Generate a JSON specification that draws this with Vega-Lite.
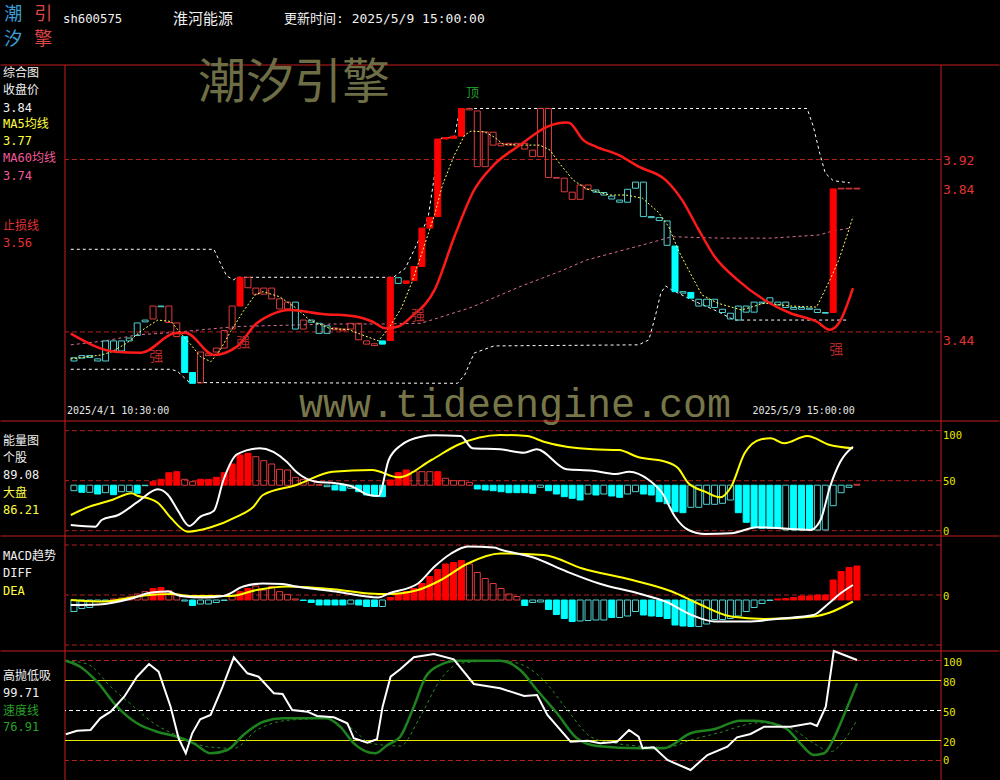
{
"$schema": "https://vega.github.io/schema/vega-lite/v6.json",
"background": "#000000",
"padding": 0,
"spacing": 0,
"bounds": "flush",
"resolve": {"scale": {"y": "independent"}},
"config": {"view": {"stroke": null}},
"datasets": {
"candles": [{"i":0,"o":3.368,"c":3.359,"k":"ch"},{"i":1,"o":3.374,"c":3.367,"k":"ch"},{"i":2,"o":3.374,"c":3.369,"k":"ch"},{"i":3,"o":3.365,"c":3.359,"k":"ch"},{"i":4,"o":3.415,"c":3.359,"k":"ch"},{"i":5,"o":3.415,"c":3.387,"k":"ch"},{"i":6,"o":3.415,"c":3.387,"k":"ch"},{"i":7,"o":3.423,"c":3.415,"k":"ch"},{"i":8,"o":3.465,"c":3.430,"k":"ch"},{"i":9,"o":3.473,"c":3.468,"k":"ch"},{"i":10,"o":3.476,"c":3.512,"k":"rh"},{"i":11,"o":3.512,"c":3.510,"k":"ch"},{"i":12,"o":3.466,"c":3.512,"k":"rh"},{"i":13,"o":3.427,"c":3.465,"k":"rh"},{"i":14,"o":3.427,"c":3.327,"k":"cs"},{"i":15,"o":3.327,"c":3.297,"k":"cs"},{"i":16,"o":3.298,"c":3.384,"k":"rh"},{"i":17,"o":3.374,"c":3.379,"k":"rh"},{"i":18,"o":3.384,"c":3.395,"k":"rh"},{"i":19,"o":3.395,"c":3.444,"k":"rh"},{"i":20,"o":3.448,"c":3.512,"k":"rh"},{"i":21,"o":3.512,"c":3.592,"k":"rs"},{"i":22,"o":3.563,"c":3.592,"k":"rh"},{"i":23,"o":3.545,"c":3.562,"k":"rh"},{"i":24,"o":3.545,"c":3.562,"k":"rh"},{"i":25,"o":3.532,"c":3.562,"k":"rh"},{"i":26,"o":3.504,"c":3.532,"k":"rh"},{"i":27,"o":3.504,"c":3.523,"k":"rh"},{"i":28,"o":3.523,"c":3.448,"k":"ch"},{"i":29,"o":3.448,"c":3.473,"k":"rh"},{"i":30,"o":3.473,"c":3.467,"k":"ch"},{"i":31,"o":3.464,"c":3.436,"k":"ch"},{"i":32,"o":3.457,"c":3.436,"k":"ch"},{"i":33,"o":3.446,"c":3.451,"k":"rh"},{"i":34,"o":3.443,"c":3.448,"k":"rh"},{"i":35,"o":3.448,"c":3.464,"k":"rh"},{"i":36,"o":3.418,"c":3.464,"k":"rh"},{"i":37,"o":3.406,"c":3.415,"k":"rh"},{"i":38,"o":3.402,"c":3.407,"k":"rh"},{"i":39,"o":3.415,"c":3.406,"k":"cs"},{"i":40,"o":3.416,"c":3.592,"k":"rs"},{"i":41,"o":3.591,"c":3.575,"k":"ch"},{"i":42,"o":3.575,"c":3.582,"k":"rs"},{"i":43,"o":3.583,"c":3.622,"k":"rs"},{"i":44,"o":3.622,"c":3.729,"k":"rs"},{"i":45,"o":3.729,"c":3.759,"k":"rs"},{"i":46,"o":3.761,"c":3.977,"k":"rs"},{"i":47,"o":3.977,"c":3.981,"k":"rs"},{"i":48,"o":3.979,"c":3.985,"k":"rs"},{"i":49,"o":3.985,"c":4.062,"k":"rs"},{"i":50,"o":4.058,"c":4.062,"k":"rh"},{"i":51,"o":3.900,"c":4.055,"k":"rh"},{"i":52,"o":3.900,"c":3.997,"k":"rh"},{"i":53,"o":3.960,"c":3.996,"k":"rh"},{"i":54,"o":3.958,"c":3.965,"k":"rh"},{"i":55,"o":3.960,"c":3.965,"k":"rh"},{"i":56,"o":3.958,"c":3.965,"k":"rh"},{"i":57,"o":3.949,"c":3.965,"k":"rh"},{"i":58,"o":3.928,"c":3.946,"k":"rh"},{"i":59,"o":3.928,"c":4.062,"k":"rh"},{"i":60,"o":3.870,"c":4.062,"k":"rh"},{"i":61,"o":3.868,"c":3.870,"k":"rh"},{"i":62,"o":3.830,"c":3.868,"k":"rh"},{"i":63,"o":3.809,"c":3.829,"k":"rh"},{"i":64,"o":3.809,"c":3.849,"k":"rh"},{"i":65,"o":3.838,"c":3.849,"k":"rh"},{"i":66,"o":3.835,"c":3.829,"k":"ch"},{"i":67,"o":3.828,"c":3.821,"k":"ch"},{"i":68,"o":3.818,"c":3.810,"k":"ch"},{"i":69,"o":3.807,"c":3.801,"k":"ch"},{"i":70,"o":3.837,"c":3.801,"k":"ch"},{"i":71,"o":3.857,"c":3.840,"k":"ch"},{"i":72,"o":3.857,"c":3.761,"k":"ch"},{"i":73,"o":3.761,"c":3.758,"k":"ch"},{"i":74,"o":3.758,"c":3.750,"k":"ch"},{"i":75,"o":3.749,"c":3.681,"k":"ch"},{"i":76,"o":3.679,"c":3.552,"k":"cs"},{"i":77,"o":3.552,"c":3.548,"k":"ch"},{"i":78,"o":3.550,"c":3.534,"k":"cs"},{"i":79,"o":3.531,"c":3.512,"k":"ch"},{"i":80,"o":3.531,"c":3.512,"k":"ch"},{"i":81,"o":3.531,"c":3.508,"k":"ch"},{"i":82,"o":3.503,"c":3.494,"k":"ch"},{"i":83,"o":3.492,"c":3.476,"k":"ch"},{"i":84,"o":3.512,"c":3.473,"k":"ch"},{"i":85,"o":3.512,"c":3.495,"k":"ch"},{"i":86,"o":3.523,"c":3.495,"k":"ch"},{"i":87,"o":3.523,"c":3.520,"k":"ch"},{"i":88,"o":3.535,"c":3.523,"k":"ch"},{"i":89,"o":3.523,"c":3.515,"k":"ch"},{"i":90,"o":3.523,"c":3.508,"k":"ch"},{"i":91,"o":3.508,"c":3.503,"k":"ch"},{"i":92,"o":3.508,"c":3.503,"k":"ch"},{"i":93,"o":3.506,"c":3.503,"k":"ch"},{"i":94,"o":3.503,"c":3.494,"k":"ch"},{"i":95,"o":3.494,"c":3.492,"k":"ch"},{"i":96,"o":3.494,"c":3.838,"k":"rs"},{"i":97,"o":3.838,"c":3.840,"k":"rh"},{"i":98,"o":3.838,"c":3.840,"k":"rh"},{"i":99,"o":3.838,"c":3.840,"k":"rh"}],
"ma5": [{"i":-0.4,"v":3.365},{"i":1.4,"v":3.370},{"i":3.5,"v":3.376},{"i":4.8,"v":3.385},{"i":6.7,"v":3.409},{"i":8.5,"v":3.443},{"i":10.6,"v":3.473},{"i":12.3,"v":3.469},{"i":13.5,"v":3.436},{"i":14.8,"v":3.404},{"i":16.0,"v":3.371},{"i":17.3,"v":3.357},{"i":18.5,"v":3.390},{"i":19.8,"v":3.441},{"i":21.4,"v":3.497},{"i":22.9,"v":3.543},{"i":23.9,"v":3.552},{"i":26.0,"v":3.538},{"i":28.1,"v":3.506},{"i":29.8,"v":3.473},{"i":32.3,"v":3.450},{"i":34.8,"v":3.446},{"i":36.4,"v":3.432},{"i":38.5,"v":3.415},{"i":39.8,"v":3.450},{"i":41.4,"v":3.506},{"i":42.7,"v":3.576},{"i":43.9,"v":3.654},{"i":45.6,"v":3.766},{"i":46.6,"v":3.849},{"i":48.1,"v":3.932},{"i":49.4,"v":3.988},{"i":50.2,"v":3.999},{"i":51.9,"v":3.997},{"i":53.1,"v":3.983},{"i":54.3,"v":3.962},{"i":57.3,"v":3.960},{"i":58.9,"v":3.960},{"i":60.2,"v":3.946},{"i":61.4,"v":3.909},{"i":63.1,"v":3.863},{"i":64.8,"v":3.838},{"i":67.7,"v":3.821},{"i":69.8,"v":3.821},{"i":71.9,"v":3.812},{"i":73.9,"v":3.773},{"i":75.2,"v":3.733},{"i":76.4,"v":3.668},{"i":77.7,"v":3.613},{"i":79.4,"v":3.543},{"i":81.4,"v":3.520},{"i":84.4,"v":3.501},{"i":87.3,"v":3.520},{"i":90.6,"v":3.512},{"i":93.9,"v":3.509},{"i":95.6,"v":3.585},{"i":96.7,"v":3.640},{"i":97.7,"v":3.705},{"i":98.5,"v":3.761}],
"ma60": [{"i":-0.4,"v":3.404},{"i":3.9,"v":3.415},{"i":8.1,"v":3.432},{"i":12.3,"v":3.438},{"i":20.6,"v":3.455},{"i":32.7,"v":3.462},{"i":38.9,"v":3.462},{"i":43.9,"v":3.464},{"i":50.2,"v":3.508},{"i":56.4,"v":3.566},{"i":61.4,"v":3.608},{"i":64.8,"v":3.640},{"i":72.7,"v":3.687},{"i":75.6,"v":3.705},{"i":81.9,"v":3.701},{"i":88.1,"v":3.701},{"i":94.3,"v":3.710},{"i":95.6,"v":3.719},{"i":98.1,"v":3.729}],
"trend": [{"i":-0.4,"v":3.435},{"i":5.2,"v":3.385},{"i":8.5,"v":3.382},{"i":12.7,"v":3.436},{"i":14.1,"v":3.438},{"i":17.7,"v":3.376},{"i":20.6,"v":3.399},{"i":23.1,"v":3.464},{"i":24.8,"v":3.487},{"i":27.3,"v":3.501},{"i":31.4,"v":3.490},{"i":35.6,"v":3.483},{"i":37.7,"v":3.469},{"i":39.4,"v":3.450},{"i":41.0,"v":3.455},{"i":42.7,"v":3.483},{"i":45.6,"v":3.557},{"i":48.1,"v":3.705},{"i":50.6,"v":3.835},{"i":53.1,"v":3.905},{"i":56.4,"v":3.960},{"i":59.8,"v":4.011},{"i":62.3,"v":4.023},{"i":62.7,"v":4.021},{"i":64.4,"v":3.974},{"i":66.0,"v":3.956},{"i":68.9,"v":3.932},{"i":71.4,"v":3.900},{"i":74.8,"v":3.863},{"i":76.9,"v":3.807},{"i":79.0,"v":3.724},{"i":81.0,"v":3.650},{"i":83.9,"v":3.585},{"i":87.3,"v":3.529},{"i":90.6,"v":3.492},{"i":93.9,"v":3.469},{"i":95.6,"v":3.446},{"i":96.7,"v":3.464},{"i":98.5,"v":3.562}],
"upper": [{"i":-0.4,"v":3.670},{"i":17.7,"v":3.670},{"i":18.2,"v":3.646},{"i":19.3,"v":3.596},{"i":20.2,"v":3.585},{"i":20.6,"v":3.592},{"i":40.4,"v":3.592},{"i":41.9,"v":3.617},{"i":43.5,"v":3.691},{"i":44.8,"v":3.761},{"i":45.6,"v":3.877},{"i":46.4,"v":3.979},{"i":48.1,"v":3.983},{"i":48.7,"v":4.049},{"i":49.8,"v":4.062},{"i":92.7,"v":4.062},{"i":93.5,"v":4.011},{"i":94.3,"v":3.937},{"i":95.0,"v":3.882},{"i":96.0,"v":3.861},{"i":98.1,"v":3.855}],
"lower": [{"i":-0.4,"v":3.336},{"i":12.3,"v":3.336},{"i":13.1,"v":3.330},{"i":14.6,"v":3.299},{"i":48.5,"v":3.297},{"i":49.4,"v":3.320},{"i":50.6,"v":3.381},{"i":53.1,"v":3.401},{"i":71.4,"v":3.404},{"i":72.7,"v":3.418},{"i":73.5,"v":3.483},{"i":74.2,"v":3.548},{"i":74.8,"v":3.568},{"i":75.6,"v":3.557},{"i":78.1,"v":3.529},{"i":81.0,"v":3.501},{"i":83.5,"v":3.473},{"i":98.0,"v":3.473}],
"ebars": [{"i":0,"v":40,"k":"ch"},{"i":1,"v":38.4,"k":"cs"},{"i":2,"v":38.4,"k":"ch"},{"i":3,"v":36.7,"k":"cs"},{"i":4,"v":38,"k":"ch"},{"i":5,"v":36,"k":"cs"},{"i":6,"v":39,"k":"ch"},{"i":7,"v":39,"k":"ch"},{"i":8,"v":37.4,"k":"cs"},{"i":9,"v":45,"k":"ch"},{"i":10,"v":49,"k":"rs"},{"i":11,"v":51.4,"k":"rs"},{"i":12,"v":58,"k":"rs"},{"i":13,"v":59,"k":"rs"},{"i":14,"v":51.4,"k":"rh"},{"i":15,"v":49,"k":"rh"},{"i":16,"v":51.4,"k":"rs"},{"i":17,"v":51.4,"k":"rs"},{"i":18,"v":53.4,"k":"rs"},{"i":19,"v":58,"k":"rs"},{"i":20,"v":66.7,"k":"rs"},{"i":21,"v":75.7,"k":"rs"},{"i":22,"v":77.4,"k":"rs"},{"i":23,"v":74,"k":"rh"},{"i":24,"v":70,"k":"rh"},{"i":25,"v":66.7,"k":"rh"},{"i":26,"v":61.4,"k":"rh"},{"i":27,"v":60.7,"k":"rh"},{"i":28,"v":53.4,"k":"rh"},{"i":29,"v":51.4,"k":"rh"},{"i":30,"v":50,"k":"rh"},{"i":31,"v":46,"k":"rh"},{"i":32,"v":44,"k":"ch"},{"i":33,"v":40.7,"k":"cs"},{"i":34,"v":40,"k":"cs"},{"i":35,"v":42.4,"k":"ch"},{"i":36,"v":39,"k":"cs"},{"i":37,"v":35.7,"k":"cs"},{"i":38,"v":34.7,"k":"cs"},{"i":39,"v":34,"k":"cs"},{"i":40,"v":50.7,"k":"rs"},{"i":41,"v":58,"k":"rs"},{"i":42,"v":60.7,"k":"rs"},{"i":43,"v":59,"k":"rh"},{"i":44,"v":59,"k":"rh"},{"i":45,"v":59,"k":"rh"},{"i":46,"v":59,"k":"rs"},{"i":47,"v":52.4,"k":"rh"},{"i":48,"v":50,"k":"rh"},{"i":49,"v":50,"k":"rh"},{"i":50,"v":48.4,"k":"rh"},{"i":51,"v":41.7,"k":"cs"},{"i":52,"v":40.7,"k":"cs"},{"i":53,"v":40,"k":"cs"},{"i":54,"v":39,"k":"cs"},{"i":55,"v":38,"k":"cs"},{"i":56,"v":38,"k":"cs"},{"i":57,"v":38,"k":"cs"},{"i":58,"v":37.4,"k":"cs"},{"i":59,"v":43.4,"k":"ch"},{"i":60,"v":40,"k":"cs"},{"i":61,"v":36.7,"k":"cs"},{"i":62,"v":34,"k":"cs"},{"i":63,"v":32.4,"k":"cs"},{"i":64,"v":30.7,"k":"cs"},{"i":65,"v":36.7,"k":"ch"},{"i":66,"v":35.7,"k":"cs"},{"i":67,"v":36.7,"k":"ch"},{"i":68,"v":34.7,"k":"cs"},{"i":69,"v":33.4,"k":"cs"},{"i":70,"v":36.7,"k":"ch"},{"i":71,"v":39,"k":"ch"},{"i":72,"v":36.7,"k":"cs"},{"i":73,"v":35.7,"k":"cs"},{"i":74,"v":29,"k":"cs"},{"i":75,"v":27,"k":"cs"},{"i":76,"v":19,"k":"cs"},{"i":77,"v":18,"k":"cs"},{"i":78,"v":23.4,"k":"ch"},{"i":79,"v":23.4,"k":"ch"},{"i":80,"v":26.4,"k":"ch"},{"i":81,"v":26.4,"k":"ch"},{"i":82,"v":27.4,"k":"ch"},{"i":83,"v":30.7,"k":"ch"},{"i":84,"v":18,"k":"cs"},{"i":85,"v":8.4,"k":"cs"},{"i":86,"v":3.4,"k":"cs"},{"i":87,"v":2.4,"k":"cs"},{"i":88,"v":2.4,"k":"cs"},{"i":89,"v":2.4,"k":"cs"},{"i":90,"v":0.7,"k":"ch"},{"i":91,"v":0.7,"k":"cs"},{"i":92,"v":0.7,"k":"cs"},{"i":93,"v":0.7,"k":"cs"},{"i":94,"v":0.7,"k":"ch"},{"i":95,"v":0.7,"k":"ch"},{"i":96,"v":25,"k":"ch"},{"i":97,"v":38,"k":"ch"},{"i":98,"v":43.4,"k":"ch"},{"i":99,"v":46.4,"k":"rh"}],
"ewhite": [{"i":-0.4,"v":5.7},{"i":2.7,"v":4},{"i":3.5,"v":10.7},{"i":5.6,"v":15.7},{"i":8.1,"v":29},{"i":10.6,"v":41.4},{"i":11.9,"v":35.7},{"i":13.1,"v":20.7},{"i":14.6,"v":4.7},{"i":16.0,"v":14},{"i":17.7,"v":20},{"i":18.9,"v":50.7},{"i":20.6,"v":76.4},{"i":23.5,"v":82.4},{"i":26.9,"v":69},{"i":28.1,"v":59},{"i":30.6,"v":49},{"i":33.1,"v":47.4},{"i":35.2,"v":44},{"i":37.3,"v":35.7},{"i":38.5,"v":34.7},{"i":39.8,"v":70.7},{"i":41.4,"v":85.7},{"i":43.9,"v":94},{"i":45.6,"v":95.4},{"i":48.9,"v":94.7},{"i":50.4,"v":82.4},{"i":53.9,"v":81.4},{"i":56.9,"v":78},{"i":58.5,"v":81.4},{"i":62.3,"v":61.4},{"i":65.6,"v":60},{"i":68.5,"v":56.7},{"i":70.2,"v":59},{"i":72.7,"v":50.7},{"i":74.4,"v":37.4},{"i":76.0,"v":14},{"i":77.7,"v":0.7},{"i":79.8,"v":-3.3},{"i":83.1,"v":-2.6},{"i":86.4,"v":3.4},{"i":91.4,"v":1.4},{"i":93.1,"v":0.7},{"i":94.4,"v":10.7},{"i":95.6,"v":44},{"i":96.9,"v":69},{"i":98.5,"v":84}],
"eyellow": [{"i":-0.4,"v":15.7},{"i":1.4,"v":22.4},{"i":4.8,"v":30.7},{"i":7.3,"v":37.4},{"i":8.1,"v":34.7},{"i":9.4,"v":32.4},{"i":10.6,"v":28},{"i":12.3,"v":12.4},{"i":14.4,"v":-1},{"i":17.3,"v":3.4},{"i":20.6,"v":14},{"i":22.7,"v":24},{"i":23.9,"v":35.7},{"i":28.1,"v":45.7},{"i":32.7,"v":59},{"i":37.7,"v":60.7},{"i":41.0,"v":53.4},{"i":45.2,"v":70.7},{"i":48.5,"v":85.7},{"i":53.9,"v":95.7},{"i":57.3,"v":94.7},{"i":59.4,"v":89},{"i":65.6,"v":81.4},{"i":68.9,"v":80.7},{"i":71.4,"v":73.4},{"i":74.8,"v":69},{"i":76.4,"v":62.4},{"i":77.7,"v":47.4},{"i":79.8,"v":39},{"i":81.7,"v":33.4},{"i":83.1,"v":44},{"i":84.8,"v":77.4},{"i":86.9,"v":91.4},{"i":88.1,"v":92.4},{"i":89.8,"v":87.4},{"i":92.7,"v":94.7},{"i":95.6,"v":85.7},{"i":98.5,"v":82.4}],
"mbars": [{"i":0,"v":-0.033,"k":"ch"},{"i":1,"v":-0.027,"k":"ch"},{"i":2,"v":-0.025,"k":"ch"},{"i":3,"v":-0.013,"k":"ch"},{"i":4,"v":-0.012,"k":"ch"},{"i":5,"v":-0.008,"k":"rh"},{"i":6,"v":-0.006,"k":"rh"},{"i":7,"v":-0.004,"k":"rh"},{"i":8,"v":0.002,"k":"rh"},{"i":9,"v":0.0067,"k":"rh"},{"i":10,"v":0.013,"k":"rs"},{"i":11,"v":0.015,"k":"rs"},{"i":12,"v":0.0087,"k":"rh"},{"i":13,"v":0.0,"k":"rh"},{"i":14,"v":-0.012,"k":"ch"},{"i":15,"v":-0.021,"k":"cs"},{"i":16,"v":-0.018,"k":"ch"},{"i":17,"v":-0.018,"k":"ch"},{"i":18,"v":-0.015,"k":"ch"},{"i":19,"v":-0.011,"k":"ch"},{"i":20,"v":-0.002,"k":"rh"},{"i":21,"v":0.0067,"k":"rs"},{"i":22,"v":0.013,"k":"rs"},{"i":23,"v":0.018,"k":"rh"},{"i":24,"v":0.010,"k":"rh"},{"i":25,"v":0.017,"k":"rh"},{"i":26,"v":0.0067,"k":"rh"},{"i":27,"v":0.0013,"k":"rh"},{"i":28,"v":-0.008,"k":"rh"},{"i":29,"v":-0.011,"k":"cs"},{"i":30,"v":-0.015,"k":"cs"},{"i":31,"v":-0.020,"k":"cs"},{"i":32,"v":-0.020,"k":"cs"},{"i":33,"v":-0.020,"k":"cs"},{"i":34,"v":-0.020,"k":"cs"},{"i":35,"v":-0.018,"k":"ch"},{"i":36,"v":-0.020,"k":"cs"},{"i":37,"v":-0.023,"k":"cs"},{"i":38,"v":-0.023,"k":"cs"},{"i":39,"v":-0.023,"k":"ch"},{"i":40,"v":-0.005,"k":"rs"},{"i":41,"v":0.0033,"k":"rs"},{"i":42,"v":0.0067,"k":"rs"},{"i":43,"v":0.013,"k":"rs"},{"i":44,"v":0.023,"k":"rs"},{"i":45,"v":0.037,"k":"rs"},{"i":46,"v":0.051,"k":"rs"},{"i":47,"v":0.062,"k":"rs"},{"i":48,"v":0.065,"k":"rs"},{"i":49,"v":0.069,"k":"rs"},{"i":50,"v":0.062,"k":"rh"},{"i":51,"v":0.045,"k":"rh"},{"i":52,"v":0.033,"k":"rh"},{"i":53,"v":0.023,"k":"rh"},{"i":54,"v":0.013,"k":"rh"},{"i":55,"v":0.002,"k":"rh"},{"i":56,"v":-0.003,"k":"rh"},{"i":57,"v":-0.021,"k":"cs"},{"i":58,"v":-0.015,"k":"ch"},{"i":59,"v":-0.014,"k":"ch"},{"i":60,"v":-0.029,"k":"cs"},{"i":61,"v":-0.039,"k":"cs"},{"i":62,"v":-0.047,"k":"cs"},{"i":63,"v":-0.053,"k":"cs"},{"i":64,"v":-0.052,"k":"ch"},{"i":65,"v":-0.051,"k":"ch"},{"i":66,"v":-0.050,"k":"ch"},{"i":67,"v":-0.050,"k":"ch"},{"i":68,"v":-0.045,"k":"cs"},{"i":69,"v":-0.045,"k":"ch"},{"i":70,"v":-0.042,"k":"ch"},{"i":71,"v":-0.033,"k":"ch"},{"i":72,"v":-0.040,"k":"cs"},{"i":73,"v":-0.042,"k":"cs"},{"i":74,"v":-0.043,"k":"cs"},{"i":75,"v":-0.047,"k":"cs"},{"i":76,"v":-0.060,"k":"cs"},{"i":77,"v":-0.062,"k":"cs"},{"i":78,"v":-0.063,"k":"cs"},{"i":79,"v":-0.063,"k":"ch"},{"i":80,"v":-0.058,"k":"ch"},{"i":81,"v":-0.049,"k":"ch"},{"i":82,"v":-0.049,"k":"ch"},{"i":83,"v":-0.047,"k":"ch"},{"i":84,"v":-0.042,"k":"ch"},{"i":85,"v":-0.033,"k":"ch"},{"i":86,"v":-0.025,"k":"ch"},{"i":87,"v":-0.017,"k":"ch"},{"i":88,"v":-0.011,"k":"ch"},{"i":89,"v":-0.008,"k":"rs"},{"i":90,"v":-0.007,"k":"rs"},{"i":91,"v":-0.005,"k":"rs"},{"i":92,"v":-0.002,"k":"rs"},{"i":93,"v":-0.002,"k":"rs"},{"i":94,"v":0.0,"k":"rs"},{"i":95,"v":0.0,"k":"rs"},{"i":96,"v":0.030,"k":"rs"},{"i":97,"v":0.047,"k":"rs"},{"i":98,"v":0.055,"k":"rs"},{"i":99,"v":0.058,"k":"rs"}],
"diff": [{"i":-0.4,"v":-0.020},{"i":3.1,"v":-0.019},{"i":7.3,"v":-0.007},{"i":9.8,"v":0.005},{"i":11.9,"v":0.007},{"i":13.5,"v":-0.002},{"i":16.4,"v":-0.005},{"i":18.9,"v":-0.002},{"i":21.4,"v":0.017},{"i":23.9,"v":0.023},{"i":26.4,"v":0.022},{"i":28.1,"v":0.017},{"i":33.1,"v":0.007},{"i":38.5,"v":-0.005},{"i":39.8,"v":0.003},{"i":43.5,"v":0.023},{"i":45.6,"v":0.057},{"i":47.7,"v":0.083},{"i":49.8,"v":0.097},{"i":53.1,"v":0.095},{"i":53.9,"v":0.091},{"i":58.1,"v":0.075},{"i":62.3,"v":0.047},{"i":66.4,"v":0.023},{"i":71.4,"v":0.003},{"i":74.8,"v":-0.013},{"i":78.1,"v":-0.040},{"i":81.0,"v":-0.053},{"i":85.2,"v":-0.053},{"i":89.4,"v":-0.047},{"i":93.5,"v":-0.040},{"i":95.2,"v":-0.020},{"i":96.9,"v":0.003},{"i":98.5,"v":0.020}],
"dea": [{"i":-0.4,"v":-0.010},{"i":3.9,"v":-0.013},{"i":8.9,"v":-0.001},{"i":12.3,"v":0.002},{"i":14.8,"v":-0.002},{"i":19.8,"v":-0.002},{"i":23.1,"v":0.010},{"i":26.9,"v":0.017},{"i":33.1,"v":0.011},{"i":37.3,"v":0.003},{"i":39.8,"v":0.002},{"i":43.5,"v":0.010},{"i":46.4,"v":0.030},{"i":49.8,"v":0.063},{"i":53.9,"v":0.083},{"i":59.4,"v":0.080},{"i":64.3,"v":0.053},{"i":70.6,"v":0.030},{"i":75.6,"v":0.007},{"i":78.9,"v":-0.017},{"i":83.1,"v":-0.043},{"i":87.3,"v":-0.048},{"i":93.5,"v":-0.043},{"i":95.6,"v":-0.035},{"i":98.5,"v":-0.013}],
"gwhite": [{"i":-0.4,"v":26.2},{"i":1.0,"v":29.8},{"i":2.7,"v":30.5},{"i":3.9,"v":42.2},{"i":5.2,"v":48.8},{"i":6.9,"v":63.8},{"i":8.5,"v":83.8},{"i":10.0,"v":96.5},{"i":11.2,"v":88.8},{"i":12.7,"v":53.8},{"i":13.7,"v":22.2},{"i":14.6,"v":7.2},{"i":15.4,"v":27.2},{"i":16.4,"v":41.2},{"i":17.7,"v":45.5},{"i":19.2,"v":73.8},{"i":20.6,"v":103.2},{"i":22.3,"v":87.2},{"i":23.7,"v":83.8},{"i":25.6,"v":67.2},{"i":26.7,"v":66.5},{"i":27.9,"v":50.5},{"i":29.8,"v":48.8},{"i":31.0,"v":44.5},{"i":33.1,"v":43.2},{"i":34.8,"v":37.2},{"i":35.6,"v":22.2},{"i":37.3,"v":17.8},{"i":38.5,"v":21.2},{"i":39.2,"v":53.8},{"i":40.2,"v":83.8},{"i":41.4,"v":91.2},{"i":43.1,"v":103.2},{"i":45.6,"v":106.5},{"i":48.1,"v":101.2},{"i":50.6,"v":76.5},{"i":53.9,"v":72.2},{"i":56.9,"v":64.5},{"i":58.5,"v":65.5},{"i":59.8,"v":45.5},{"i":62.7,"v":18.8},{"i":64.8,"v":19.8},{"i":66.4,"v":17.2},{"i":68.5,"v":18.8},{"i":70.0,"v":30.5},{"i":71.2,"v":23.8},{"i":71.7,"v":12.2},{"i":73.1,"v":13.2},{"i":74.8,"v":0.5},{"i":77.7,"v":-9.5},{"i":79.8,"v":5.5},{"i":82.3,"v":13.8},{"i":83.5,"v":23.2},{"i":85.2,"v":26.5},{"i":86.9,"v":33.8},{"i":90.2,"v":33.8},{"i":92.7,"v":37.2},{"i":93.5,"v":34.5},{"i":94.6,"v":53.8},{"i":95.6,"v":109.5},{"i":98.5,"v":100.5}],
"ggreen": [{"i":-0.4,"v":99.8},{"i":1.4,"v":93.8},{"i":3.5,"v":78.8},{"i":6.0,"v":53.8},{"i":8.5,"v":37.2},{"i":11.0,"v":28.8},{"i":13.5,"v":23.8},{"i":15.6,"v":17.2},{"i":17.7,"v":7.2},{"i":19.8,"v":10.5},{"i":21.8,"v":25.5},{"i":24.3,"v":38.8},{"i":26.8,"v":42.2},{"i":32.2,"v":42.2},{"i":33.9,"v":33.8},{"i":35.6,"v":17.2},{"i":38.3,"v":7.2},{"i":39.8,"v":15.5},{"i":41.4,"v":23.8},{"i":43.1,"v":53.8},{"i":44.6,"v":83.8},{"i":46.4,"v":95.5},{"i":48.5,"v":99.8},{"i":53.9,"v":99.8},{"i":56.4,"v":90.5},{"i":58.5,"v":70.5},{"i":61.0,"v":47.2},{"i":63.5,"v":22.2},{"i":66.0,"v":14.5},{"i":71.4,"v":12.2},{"i":74.3,"v":12.2},{"i":77.7,"v":27.2},{"i":80.6,"v":31.2},{"i":83.9,"v":39.8},{"i":85.6,"v":39.8},{"i":89.6,"v":32.2},{"i":91.4,"v":17.2},{"i":93.1,"v":5.5},{"i":94.4,"v":7.2},{"i":95.6,"v":22.2},{"i":97.3,"v":53.8},{"i":98.5,"v":77.2}],
"gdash": [{"i":-0.4,"v":99.8},{"i":2.3,"v":96.5},{"i":5.2,"v":73.8},{"i":8.1,"v":53.8},{"i":10.6,"v":37.2},{"i":13.9,"v":23.8},{"i":17.3,"v":13.8},{"i":20.6,"v":12.2},{"i":23.5,"v":30.5},{"i":27.7,"v":40.5},{"i":33.1,"v":42.2},{"i":35.6,"v":30.5},{"i":37.7,"v":17.2},{"i":41.4,"v":14.5},{"i":43.9,"v":43.8},{"i":46.4,"v":80.5},{"i":48.9,"v":97.2},{"i":53.9,"v":99.8},{"i":56.4,"v":96.5},{"i":59.3,"v":80.5},{"i":62.3,"v":50.5},{"i":65.2,"v":23.8},{"i":67.7,"v":17.8},{"i":74.8,"v":13.2},{"i":77.7,"v":20.5},{"i":81.0,"v":27.2},{"i":86.4,"v":37.8},{"i":90.2,"v":32.2},{"i":93.1,"v":17.2},{"i":95.2,"v":8.8},{"i":96.9,"v":20.5},{"i":98.5,"v":40.5}]
},
"vconcat": [
{
"width": 876, "height": 356,
"layer": [
{"data": {"values": [{}]}, "mark": {"type": "rule", "color": "#000000", "strokeWidth": 1}, "encoding": {"x": {"value": -64.5}, "x2": {"value": 934.5}, "y": {"value": -64.5}}},
{"data": {"values": [{}]}, "mark": {"type": "rule", "color": "#c81e1e", "strokeWidth": 1}, "encoding": {"x": {"value": -64.5}, "x2": {"value": 934.5}, "y": {"value": 0}}},
{"data": {"values": [{}]}, "mark": {"type": "rule", "color": "#c81e1e", "strokeWidth": 1}, "encoding": {"x": {"value": 0}}},
{"data": {"values": [{}]}, "mark": {"type": "rule", "color": "#c81e1e", "strokeWidth": 1}, "encoding": {"x": {"value": 876}}},
{"data": {"values": [{"v": 3.92}, {"v": 3.44}]}, "mark": {"type": "rule", "color": "#b41e1e", "strokeWidth": 1, "strokeDash": [5, 3]},
 "encoding": {"y": {"field": "v", "type": "quantitative", "scale": {"domain": [3.192, 4.183], "zero": false, "nice": false}, "axis": null}}},
{"data": {"values": [{"v": 3.92}, {"v": 3.84}]}, "mark": {"type": "text", "font": "DejaVu Sans Mono", "fontSize": 13, "color": "#e03232", "align": "left", "baseline": "middle", "dx": 2, "dy": 2},
 "encoding": {"x": {"value": 876}, "y": {"field": "v", "type": "quantitative", "axis": null}, "text": {"field": "v", "type": "quantitative", "format": ".2f"}}},
{"data": {"values": [{"v": 3.44}]}, "mark": {"type": "text", "font": "DejaVu Sans Mono", "fontSize": 13, "color": "#e03232", "align": "left", "baseline": "middle", "dx": 2, "dy": 9},
 "encoding": {"x": {"value": 876}, "y": {"field": "v", "type": "quantitative", "axis": null}, "text": {"field": "v", "type": "quantitative", "format": ".2f"}}},
{"data": {"values": [{}]}, "mark": {"type": "text", "text": "潮汐引擎", "font": "Noto Sans CJK SC", "fontSize": 48, "color": "#6e6e46", "align": "left", "baseline": "middle"}, "encoding": {"x": {"value": 133}, "y": {"value": 19}}},
{"data": {"values": [{}]}, "mark": {"type": "text", "text": "www.tideengine.com", "font": "Liberation Mono", "fontSize": 40, "color": "#76764a", "align": "left", "baseline": "alphabetic"}, "encoding": {"x": {"value": 234}, "y": {"value": 352}}},
{"data": {"name": "upper"}, "mark": {"type": "line", "color": "#ffffff", "strokeWidth": 1, "strokeDash": [3, 3]}, "encoding": {"x": {"field": "i", "type": "quantitative", "scale": {"domain": [-0.5, 109], "nice": false, "zero": false}, "axis": null}, "y": {"field": "v", "type": "quantitative", "axis": null}}},
{"data": {"name": "lower"}, "mark": {"type": "line", "color": "#ffffff", "strokeWidth": 1, "strokeDash": [3, 3]}, "encoding": {"x": {"field": "i", "type": "quantitative", "scale": {"domain": [-0.5, 109], "nice": false, "zero": false}, "axis": null}, "y": {"field": "v", "type": "quantitative", "axis": null}}},
{"data": {"name": "ma60"}, "mark": {"type": "line", "color": "#dc6e96", "strokeWidth": 1, "strokeDash": [3, 3]}, "encoding": {"x": {"field": "i", "type": "quantitative", "scale": {"domain": [-0.5, 109], "nice": false, "zero": false}, "axis": null}, "y": {"field": "v", "type": "quantitative", "axis": null}}},
{"data": {"name": "candles"}, "mark": {"type": "bar", "width": 6, "strokeWidth": 1},
 "encoding": {"x": {"field": "i", "type": "quantitative", "scale": {"domain": [-0.5, 109], "nice": false, "zero": false}, "axis": null},
  "y": {"field": "o", "type": "quantitative", "axis": null}, "y2": {"field": "c"},
  "fill": {"field": "k", "type": "nominal", "scale": {"domain": ["rs", "rh", "cs", "ch"], "range": ["#ff0000", "rgba(0,0,0,0)", "#00ffff", "rgba(0,0,0,0)"]}, "legend": null},
  "stroke": {"field": "k", "type": "nominal", "scale": {"domain": ["rs", "rh", "cs", "ch"], "range": ["#ff0000", "#dc3c3c", "#00ffff", "#50d2d2"]}, "legend": null}}},
{"data": {"name": "ma5"}, "mark": {"type": "line", "color": "#ffff66", "strokeWidth": 1, "strokeDash": [2, 2]}, "encoding": {"x": {"field": "i", "type": "quantitative", "scale": {"domain": [-0.5, 109], "nice": false, "zero": false}, "axis": null}, "y": {"field": "v", "type": "quantitative", "axis": null}}},
{"data": {"name": "trend"}, "mark": {"type": "line", "color": "#ff1a1a", "strokeWidth": 2.5, "interpolate": "monotone"}, "encoding": {"x": {"field": "i", "type": "quantitative", "scale": {"domain": [-0.5, 109], "nice": false, "zero": false}, "axis": null}, "y": {"field": "v", "type": "quantitative", "axis": null}}},
{"data": {"values": [{"i": 50.4, "v": 4.104}]}, "mark": {"type": "text", "text": "顶", "font": "Noto Sans CJK SC", "fontSize": 13, "color": "#1e9628"}, "encoding": {"x": {"field": "i", "type": "quantitative", "scale": {"domain": [-0.5, 109], "nice": false, "zero": false}, "axis": null}, "y": {"field": "v", "type": "quantitative", "axis": null}}},
{"data": {"values": [{"i": 10.4, "v": 3.371}, {"i": 21.4, "v": 3.41}, {"i": 43.5, "v": 3.483}, {"i": 96.4, "v": 3.39}]}, "mark": {"type": "text", "text": "强", "font": "Noto Sans CJK SC", "fontSize": 14, "color": "#b42828"}, "encoding": {"x": {"field": "i", "type": "quantitative", "scale": {"domain": [-0.5, 109], "nice": false, "zero": false}, "axis": null}, "y": {"field": "v", "type": "quantitative", "axis": null}}},
{"data": {"values": [{}]}, "mark": {"type": "text", "text": "2025/4/1 10:30:00", "font": "DejaVu Sans Mono", "fontSize": 10, "color": "#e6e6e6", "align": "left", "baseline": "middle"}, "encoding": {"x": {"value": 2}, "y": {"value": 346}}},
{"data": {"values": [{}]}, "mark": {"type": "text", "text": "2025/5/9 15:00:00", "font": "DejaVu Sans Mono", "fontSize": 10, "color": "#e6e6e6", "align": "left", "baseline": "middle"}, "encoding": {"x": {"value": 687.5}, "y": {"value": 346}}},
{"data": {"values": [{}]}, "mark": {"type": "text", "text": ["综合图", "收盘价", "3.84"], "font": "DejaVu Sans Mono, Noto Sans CJK SC", "fontSize": 12, "lineHeight": 17.2, "color": "#f0f0f0", "align": "left", "baseline": "top"}, "encoding": {"x": {"value": -62}, "y": {"value": 3.3}}},
{"data": {"values": [{}]}, "mark": {"type": "text", "text": ["MA5均线", "3.77"], "font": "DejaVu Sans Mono, Noto Sans CJK SC", "fontSize": 12, "lineHeight": 17, "color": "#ffff40", "align": "left", "baseline": "top"}, "encoding": {"x": {"value": -62}, "y": {"value": 54}}},
{"data": {"values": [{}]}, "mark": {"type": "text", "text": ["MA60均线", "3.74"], "font": "DejaVu Sans Mono, Noto Sans CJK SC", "fontSize": 12, "lineHeight": 17.7, "color": "#f05a9b", "align": "left", "baseline": "top"}, "encoding": {"x": {"value": -62}, "y": {"value": 88.3}}},
{"data": {"values": [{}]}, "mark": {"type": "text", "text": ["止损线", "3.56"], "font": "DejaVu Sans Mono, Noto Sans CJK SC", "fontSize": 12, "lineHeight": 17.6, "color": "#e03232", "align": "left", "baseline": "top"}, "encoding": {"x": {"value": -62}, "y": {"value": 155.7}}},
{"data": {"values": [{}]}, "mark": {"type": "text", "text": "潮", "font": "Noto Sans CJK SC", "fontSize": 18, "color": "#3c9fd6", "align": "center", "baseline": "middle"}, "encoding": {"x": {"value": -51.7}, "y": {"value": -50}}},
{"data": {"values": [{}]}, "mark": {"type": "text", "text": "汐", "font": "Noto Sans CJK SC", "fontSize": 18, "color": "#3c9fd6", "align": "center", "baseline": "middle"}, "encoding": {"x": {"value": -51.7}, "y": {"value": -25}}},
{"data": {"values": [{}]}, "mark": {"type": "text", "text": "引", "font": "Noto Sans CJK SC", "fontSize": 18, "color": "#dc4646", "align": "center", "baseline": "middle"}, "encoding": {"x": {"value": -21.7}, "y": {"value": -50}}},
{"data": {"values": [{}]}, "mark": {"type": "text", "text": "擎", "font": "Noto Sans CJK SC", "fontSize": 18, "color": "#dc4646", "align": "center", "baseline": "middle"}, "encoding": {"x": {"value": -21.7}, "y": {"value": -25}}},
{"data": {"values": [{}]}, "mark": {"type": "text", "text": "sh600575", "font": "DejaVu Sans Mono", "fontSize": 12.3, "color": "#f0f0f0", "align": "left", "baseline": "middle"}, "encoding": {"x": {"value": -2}, "y": {"value": -46}}},
{"data": {"values": [{}]}, "mark": {"type": "text", "text": "淮河能源", "font": "Noto Sans CJK SC", "fontSize": 15, "color": "#f0f0f0", "align": "left", "baseline": "middle"}, "encoding": {"x": {"value": 108}, "y": {"value": -46}}},
{"data": {"values": [{}]}, "mark": {"type": "text", "text": "更新时间: 2025/5/9 15:00:00", "font": "DejaVu Sans Mono, Noto Sans CJK SC", "fontSize": 13, "color": "#f0f0f0", "align": "left", "baseline": "middle"}, "encoding": {"x": {"value": 219}, "y": {"value": -46}}}
]
},
{
"width": 876, "height": 115,
"layer": [
{"data": {"values": [{}]}, "mark": {"type": "rule", "color": "#c81e1e", "strokeWidth": 1}, "encoding": {"x": {"value": -64.5}, "x2": {"value": 934.5}, "y": {"value": 0}}},
{"data": {"values": [{}]}, "mark": {"type": "rule", "color": "#c81e1e", "strokeWidth": 1}, "encoding": {"x": {"value": 0}}},
{"data": {"values": [{}]}, "mark": {"type": "rule", "color": "#c81e1e", "strokeWidth": 1}, "encoding": {"x": {"value": 876}}},
{"data": {"values": [{"v": 100}, {"v": 50}, {"v": 0}]}, "mark": {"type": "rule", "color": "#b41e1e", "strokeWidth": 1, "strokeDash": [5, 3]},
 "encoding": {"y": {"field": "v", "type": "quantitative", "scale": {"domain": [-5.3, 109.7], "zero": false, "nice": false}, "axis": null}}},
{"data": {"values": [{"v": 100}]}, "mark": {"type": "text", "font": "DejaVu Sans Mono", "fontSize": 10.5, "color": "#e6e600", "align": "left", "baseline": "middle", "dx": 2, "dy": 5},
 "encoding": {"x": {"value": 876}, "y": {"field": "v", "type": "quantitative", "axis": null}, "text": {"field": "v", "type": "quantitative", "format": "d"}}},
{"data": {"values": [{"v": 50}, {"v": 0}]}, "mark": {"type": "text", "font": "DejaVu Sans Mono", "fontSize": 10.5, "color": "#e6e600", "align": "left", "baseline": "middle", "dx": 2, "dy": 1},
 "encoding": {"x": {"value": 876}, "y": {"field": "v", "type": "quantitative", "axis": null}, "text": {"field": "v", "type": "quantitative", "format": "d"}}},
{"data": {"name": "ebars"}, "mark": {"type": "bar", "width": 6, "strokeWidth": 1},
 "encoding": {"x": {"field": "i", "type": "quantitative", "scale": {"domain": [-0.5, 109], "nice": false, "zero": false}, "axis": null},
  "y": {"field": "v", "type": "quantitative", "axis": null}, "y2": {"datum": 45.5},
  "fill": {"field": "k", "type": "nominal", "scale": {"domain": ["rs", "rh", "cs", "ch"], "range": ["#ff0000", "rgba(0,0,0,0)", "#00ffff", "rgba(0,0,0,0)"]}, "legend": null},
  "stroke": {"field": "k", "type": "nominal", "scale": {"domain": ["rs", "rh", "cs", "ch"], "range": ["#ff0000", "#dc3c3c", "#00ffff", "#50d2d2"]}, "legend": null}}},
{"data": {"name": "eyellow"}, "mark": {"type": "line", "color": "#ffff00", "strokeWidth": 2, "interpolate": "monotone"}, "encoding": {"x": {"field": "i", "type": "quantitative", "scale": {"domain": [-0.5, 109], "nice": false, "zero": false}, "axis": null}, "y": {"field": "v", "type": "quantitative", "axis": null}}},
{"data": {"name": "ewhite"}, "mark": {"type": "line", "color": "#ffffff", "strokeWidth": 2, "interpolate": "monotone"}, "encoding": {"x": {"field": "i", "type": "quantitative", "scale": {"domain": [-0.5, 109], "nice": false, "zero": false}, "axis": null}, "y": {"field": "v", "type": "quantitative", "axis": null}}},
{"data": {"values": [{}]}, "mark": {"type": "text", "text": ["能量图", "个股", "89.08"], "font": "DejaVu Sans Mono, Noto Sans CJK SC", "fontSize": 12, "lineHeight": 17, "color": "#f0f0f0", "align": "left", "baseline": "top"}, "encoding": {"x": {"value": -62}, "y": {"value": 14.7}}},
{"data": {"values": [{}]}, "mark": {"type": "text", "text": ["大盘", "86.21"], "font": "DejaVu Sans Mono, Noto Sans CJK SC", "fontSize": 12, "lineHeight": 17, "color": "#ffff40", "align": "left", "baseline": "top"}, "encoding": {"x": {"value": -62}, "y": {"value": 66.7}}}
]
},
{
"width": 876, "height": 115,
"layer": [
{"data": {"values": [{}]}, "mark": {"type": "rule", "color": "#c81e1e", "strokeWidth": 1}, "encoding": {"x": {"value": -64.5}, "x2": {"value": 934.5}, "y": {"value": 0}}},
{"data": {"values": [{}]}, "mark": {"type": "rule", "color": "#c81e1e", "strokeWidth": 1}, "encoding": {"x": {"value": 0}}},
{"data": {"values": [{}]}, "mark": {"type": "rule", "color": "#c81e1e", "strokeWidth": 1}, "encoding": {"x": {"value": 876}}},
{"data": {"values": [{"v": 0.1}, {"v": 0}, {"v": -0.1}]}, "mark": {"type": "rule", "color": "#b41e1e", "strokeWidth": 1, "strokeDash": [5, 3]},
 "encoding": {"y": {"field": "v", "type": "quantitative", "scale": {"domain": [-0.112, 0.118], "zero": false, "nice": false}, "axis": null}}},
{"data": {"values": [{"v": 0}]}, "mark": {"type": "text", "font": "DejaVu Sans Mono", "fontSize": 10.5, "color": "#e6e600", "align": "left", "baseline": "middle", "dx": 2, "dy": 2},
 "encoding": {"x": {"value": 876}, "y": {"field": "v", "type": "quantitative", "axis": null}, "text": {"field": "v", "type": "quantitative", "format": "d"}}},
{"data": {"name": "mbars"}, "mark": {"type": "bar", "width": 6, "strokeWidth": 1},
 "encoding": {"x": {"field": "i", "type": "quantitative", "scale": {"domain": [-0.5, 109], "nice": false, "zero": false}, "axis": null},
  "y": {"field": "v", "type": "quantitative", "axis": null}, "y2": {"datum": -0.01},
  "fill": {"field": "k", "type": "nominal", "scale": {"domain": ["rs", "rh", "cs", "ch"], "range": ["#ff0000", "rgba(0,0,0,0)", "#00ffff", "rgba(0,0,0,0)"]}, "legend": null},
  "stroke": {"field": "k", "type": "nominal", "scale": {"domain": ["rs", "rh", "cs", "ch"], "range": ["#ff0000", "#dc3c3c", "#00ffff", "#50d2d2"]}, "legend": null}}},
{"data": {"name": "dea"}, "mark": {"type": "line", "color": "#ffff00", "strokeWidth": 2, "interpolate": "monotone"}, "encoding": {"x": {"field": "i", "type": "quantitative", "scale": {"domain": [-0.5, 109], "nice": false, "zero": false}, "axis": null}, "y": {"field": "v", "type": "quantitative", "axis": null}}},
{"data": {"name": "diff"}, "mark": {"type": "line", "color": "#ffffff", "strokeWidth": 2, "interpolate": "monotone"}, "encoding": {"x": {"field": "i", "type": "quantitative", "scale": {"domain": [-0.5, 109], "nice": false, "zero": false}, "axis": null}, "y": {"field": "v", "type": "quantitative", "axis": null}}},
{"data": {"values": [{}]}, "mark": {"type": "text", "text": ["MACD趋势", "DIFF"], "font": "DejaVu Sans Mono, Noto Sans CJK SC", "fontSize": 12, "lineHeight": 17.3, "color": "#f0f0f0", "align": "left", "baseline": "top"}, "encoding": {"x": {"value": -62}, "y": {"value": 15}}},
{"data": {"values": [{}]}, "mark": {"type": "text", "text": "DEA", "font": "DejaVu Sans Mono, Noto Sans CJK SC", "fontSize": 12, "color": "#ffff40", "align": "left", "baseline": "top"}, "encoding": {"x": {"value": -62}, "y": {"value": 49.7}}}
]
},
{
"width": 876, "height": 129,
"layer": [
{"data": {"values": [{}]}, "mark": {"type": "rule", "color": "#c81e1e", "strokeWidth": 1}, "encoding": {"x": {"value": -64.5}, "x2": {"value": 934.5}, "y": {"value": 0}}},
{"data": {"values": [{}]}, "mark": {"type": "rule", "color": "#c81e1e", "strokeWidth": 1}, "encoding": {"x": {"value": 0}}},
{"data": {"values": [{}]}, "mark": {"type": "rule", "color": "#c81e1e", "strokeWidth": 1}, "encoding": {"x": {"value": 876}}},
{"data": {"values": [{"v": 100}, {"v": 0}]}, "mark": {"type": "rule", "color": "#b41e1e", "strokeWidth": 1, "strokeDash": [5, 3]},
 "encoding": {"y": {"field": "v", "type": "quantitative", "scale": {"domain": [-19.5, 109.5], "zero": false, "nice": false}, "axis": null}}},
{"data": {"values": [{"v": 80}, {"v": 20}]}, "mark": {"type": "rule", "color": "#e6e600", "strokeWidth": 1}, "encoding": {"y": {"field": "v", "type": "quantitative", "axis": null}}},
{"data": {"values": [{"v": 50}]}, "mark": {"type": "rule", "color": "#ffffff", "strokeWidth": 1, "strokeDash": [4, 3]}, "encoding": {"y": {"field": "v", "type": "quantitative", "axis": null}}},
{"data": {"values": [{"v": 100}, {"v": 80}, {"v": 50}, {"v": 20}]}, "mark": {"type": "text", "font": "DejaVu Sans Mono", "fontSize": 10.5, "color": "#e6e600", "align": "left", "baseline": "middle", "dx": 2, "dy": 2},
 "encoding": {"x": {"value": 876}, "y": {"field": "v", "type": "quantitative", "axis": null}, "text": {"field": "v", "type": "quantitative", "format": "d"}}},
{"data": {"values": [{"v": 0}]}, "mark": {"type": "text", "font": "DejaVu Sans Mono", "fontSize": 10.5, "color": "#e6e600", "align": "left", "baseline": "middle", "dx": 2, "dy": 0.5},
 "encoding": {"x": {"value": 876}, "y": {"field": "v", "type": "quantitative", "axis": null}, "text": {"field": "v", "type": "quantitative", "format": "d"}}},
{"data": {"name": "gdash"}, "mark": {"type": "line", "color": "#2a8a2a", "strokeWidth": 1, "strokeDash": [3, 3], "interpolate": "monotone"}, "encoding": {"x": {"field": "i", "type": "quantitative", "scale": {"domain": [-0.5, 109], "nice": false, "zero": false}, "axis": null}, "y": {"field": "v", "type": "quantitative", "axis": null}}},
{"data": {"name": "ggreen"}, "mark": {"type": "line", "color": "#1e821e", "strokeWidth": 2.5, "interpolate": "monotone"}, "encoding": {"x": {"field": "i", "type": "quantitative", "scale": {"domain": [-0.5, 109], "nice": false, "zero": false}, "axis": null}, "y": {"field": "v", "type": "quantitative", "axis": null}}},
{"data": {"name": "gwhite"}, "mark": {"type": "line", "color": "#ffffff", "strokeWidth": 2}, "encoding": {"x": {"field": "i", "type": "quantitative", "scale": {"domain": [-0.5, 109], "nice": false, "zero": false}, "axis": null}, "y": {"field": "v", "type": "quantitative", "axis": null}}},
{"data": {"values": [{}]}, "mark": {"type": "text", "text": ["高抛低吸", "99.71"], "font": "DejaVu Sans Mono, Noto Sans CJK SC", "fontSize": 12, "lineHeight": 17.3, "color": "#f0f0f0", "align": "left", "baseline": "top"}, "encoding": {"x": {"value": -62}, "y": {"value": 20}}},
{"data": {"values": [{}]}, "mark": {"type": "text", "text": ["速度线", "76.91"], "font": "DejaVu Sans Mono, Noto Sans CJK SC", "fontSize": 12, "lineHeight": 16.6, "color": "#28a028", "align": "left", "baseline": "top"}, "encoding": {"x": {"value": -62}, "y": {"value": 54.7}}}
]
}
]
}
